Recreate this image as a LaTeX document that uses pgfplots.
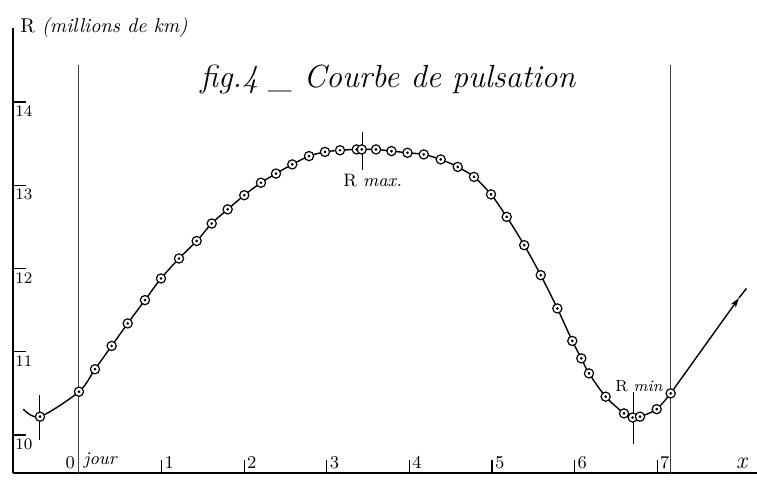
\documentclass[border=0pt]{standalone}
\usepackage{pgfplots}
\pgfplotsset{compat=1.18}
\usetikzlibrary{arrows.meta}
\begin{document}
\begin{tikzpicture}
\begin{axis}[
  scale only axis, width=372pt, height=222.5pt,
  xmin=-0.80, xmax=8.208, ymin=9.544, ymax=14.89,
  axis lines=left, axis line style={-, line width=0.8pt},
  clip=false,
  xtick={1,2,3,4,5,6,7}, ytick={10,11,12,13,14},
  tick align=inside, major tick length=6.5pt,
  tick style={black, line width=0.6pt},
  xticklabel style={anchor=south west, font=\small, inner sep=1pt, xshift=0.3pt, yshift=1pt},
  yticklabel style={anchor=north west, font=\footnotesize, inner sep=1pt, yshift=-1pt},
]
% reference vertical lines
\addplot[black!75, line width=0.5pt] coordinates {(0,9.544) (0,14.444)};
\addplot[black!75, line width=0.5pt] coordinates {(7.16,9.544) (7.16,14.444)};
% R max / R min markers
\addplot[black, line width=0.5pt] coordinates {(3.43,13.18) (3.43,13.64)};
\addplot[black, line width=0.5pt] coordinates {(6.71,9.89) (6.71,10.52)};
\addplot[black, line width=0.5pt] coordinates {(-0.472,9.94) (-0.472,10.48)};
% pulsation curve
\addplot[black, line width=0.7pt, smooth, tension=0.5] coordinates {
(-0.674,10.31) (-0.472,10.22) (0.000,10.52) (0.194,10.79) (0.396,11.07) (0.590,11.34)
(0.799,11.62) (0.993,11.88) (1.211,12.12) (1.425,12.33) (1.607,12.54) (1.800,12.71)
(2.001,12.88) (2.203,13.03) (2.385,13.14) (2.582,13.25) (2.785,13.35) (2.978,13.40)
(3.160,13.42) (3.362,13.43) (3.423,13.43) (3.596,13.43) (3.783,13.41) (3.977,13.39)
(4.174,13.37) (4.379,13.31) (4.585,13.22) (4.782,13.10) (4.988,12.89) (5.178,12.62)
(5.390,12.28) (5.590,11.92) (5.791,11.52) (5.972,11.13) (6.081,10.92) (6.174,10.74)
(6.376,10.46) (6.598,10.26) (6.703,10.21) (6.792,10.22) (6.994,10.31) (7.163,10.50)};
\addplot[black, line width=0.7pt, -{Stealth[length=5pt,width=3pt]}] coordinates {(7.163,10.50) (7.99,11.646)};
\addplot[black, line width=0.7pt] coordinates {(7.99,11.646) (8.08,11.76)};
% observation marks
\addplot[only marks, mark=*, mark size=2.3pt, mark options={fill=white, draw=black, line width=0.6pt}] coordinates {
(-0.472,10.22) (0.000,10.52) (0.194,10.79) (0.396,11.07) (0.590,11.34)
(0.799,11.62) (0.993,11.88) (1.211,12.12) (1.425,12.33) (1.607,12.54) (1.800,12.71)
(2.001,12.88) (2.203,13.03) (2.385,13.14) (2.582,13.25) (2.785,13.35) (2.978,13.40)
(3.160,13.42) (3.362,13.43) (3.423,13.43) (3.596,13.43) (3.783,13.41) (3.977,13.39)
(4.174,13.37) (4.379,13.31) (4.585,13.22) (4.782,13.10) (4.988,12.89) (5.178,12.62)
(5.390,12.28) (5.590,11.92) (5.791,11.52) (5.972,11.13) (6.081,10.92) (6.174,10.74)
(6.376,10.46) (6.598,10.26) (6.703,10.21) (6.792,10.22) (6.994,10.31) (7.163,10.50)};
\addplot[only marks, mark=*, mark size=0.45pt, black] coordinates {
(-0.472,10.22) (0.000,10.52) (0.194,10.79) (0.396,11.07) (0.590,11.34)
(0.799,11.62) (0.993,11.88) (1.211,12.12) (1.425,12.33) (1.607,12.54) (1.800,12.71)
(2.001,12.88) (2.203,13.03) (2.385,13.14) (2.582,13.25) (2.785,13.35) (2.978,13.40)
(3.160,13.42) (3.362,13.43) (3.423,13.43) (3.596,13.43) (3.783,13.41) (3.977,13.39)
(4.174,13.37) (4.379,13.31) (4.585,13.22) (4.782,13.10) (4.988,12.89) (5.178,12.62)
(5.390,12.28) (5.590,11.92) (5.791,11.52) (5.972,11.13) (6.081,10.92) (6.174,10.74)
(6.376,10.46) (6.598,10.26) (6.703,10.21) (6.792,10.22) (6.994,10.31) (7.163,10.50)};
% texts
\node[anchor=base, font=\fontsize{16}{18}\selectfont\itshape] at (axis cs:3.74,14.17) {fig.4 \_ Courbe de pulsation};
\node[anchor=base west, font=\fontsize{10}{12}\selectfont, inner sep=0pt] at (axis cs:-0.714,14.83) {R \textit{(millions de km)}};
\node[anchor=base west, font=\fontsize{9}{11}\selectfont, inner sep=0pt] at (axis cs:3.196,12.98) {R \textit{max.}};
\node[anchor=base west, font=\fontsize{8}{10}\selectfont, inner sep=0pt] at (axis cs:6.49,10.52) {R \textit{min}};
\node[anchor=south east, font=\small, inner sep=1pt, yshift=1pt] at (axis cs:-0.02,9.544) {0};
\node[anchor=south west, font=\small\itshape, inner sep=1pt, yshift=1pt] at (axis cs:0.03,9.544) {jour};
\node[anchor=south, font=\large\itshape, inner sep=1pt, yshift=1pt] at (axis cs:8.02,9.544) {x};
\coordinate (BL) at (axis cs:-0.956,9.411);
\coordinate (TR) at (axis cs:8.208,15.225);
\end{axis}
\pgfresetboundingbox
\path[use as bounding box] (BL) rectangle (TR);
\end{tikzpicture}
\end{document}
